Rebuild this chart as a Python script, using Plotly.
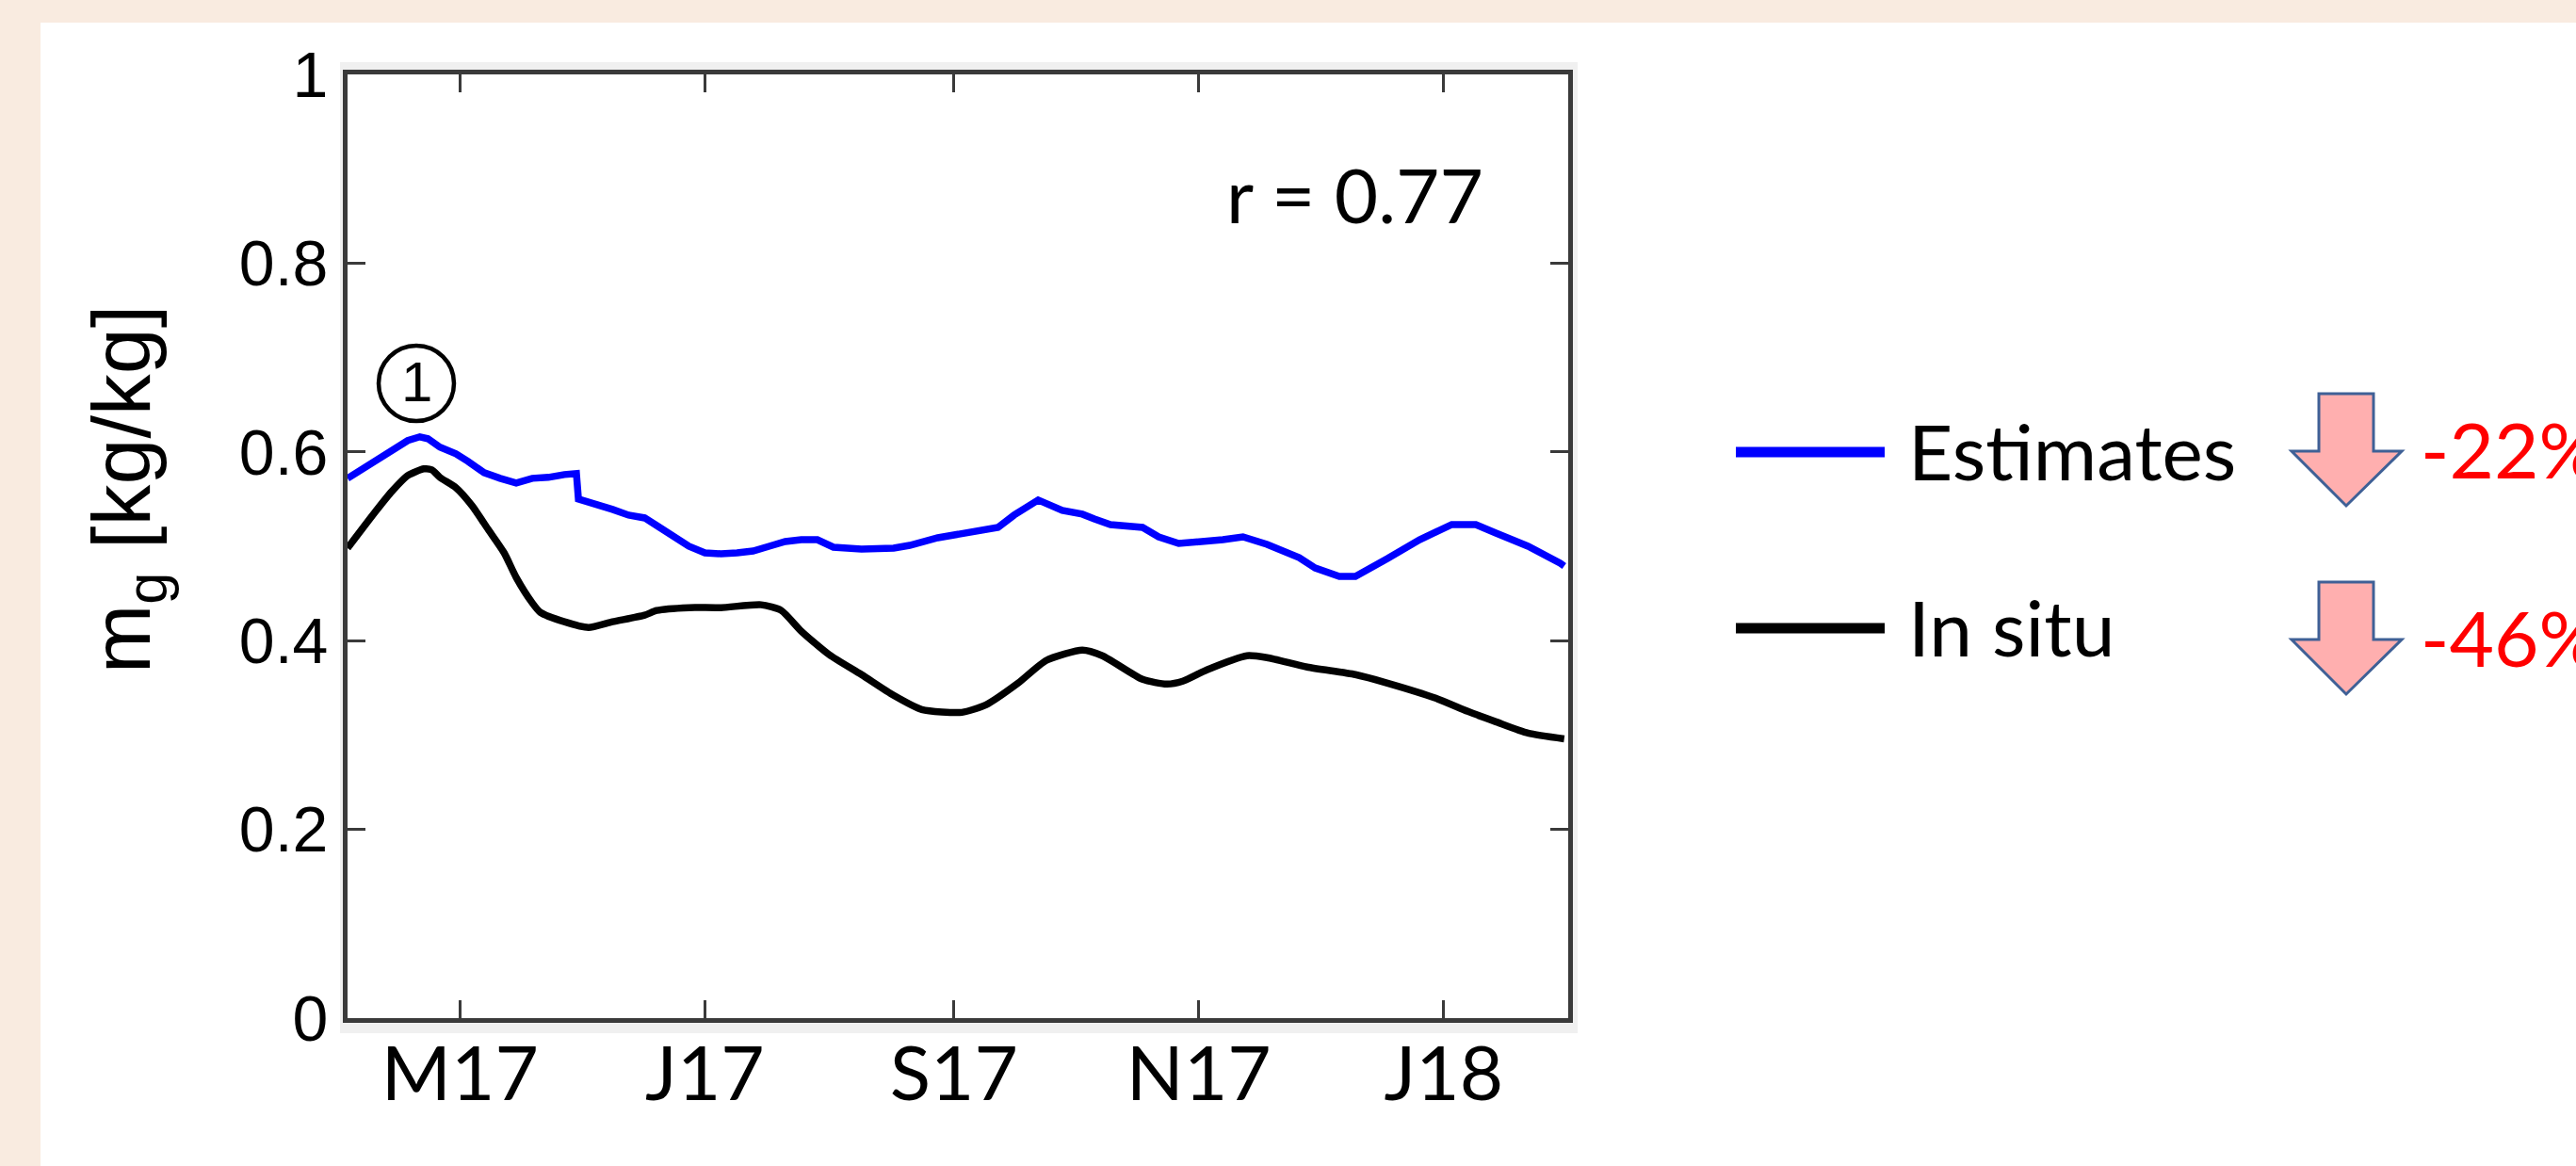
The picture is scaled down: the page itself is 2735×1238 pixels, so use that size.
import plotly.graph_objects as go

# ---------------- data ----------------
est_dates = ["2017-04-03","2017-04-10","2017-04-14","2017-04-18","2017-04-21","2017-04-23","2017-04-26","2017-04-30",
             "2017-05-03","2017-05-07","2017-05-11","2017-05-15","2017-05-19","2017-05-23","2017-05-27","2017-05-30 00:00",
             "2017-05-30 12:00","2017-06-04","2017-06-08","2017-06-12","2017-06-16","2017-06-19","2017-06-23","2017-06-27",
             "2017-07-01","2017-07-05","2017-07-09","2017-07-13","2017-07-17","2017-07-21","2017-07-25","2017-07-29",
             "2017-08-02","2017-08-09","2017-08-17","2017-08-21","2017-08-28","2017-09-05","2017-09-12","2017-09-16",
             "2017-09-22","2017-09-28","2017-10-03","2017-10-06","2017-10-10","2017-10-18","2017-10-22","2017-10-27",
             "2017-11-03","2017-11-07","2017-11-12","2017-11-18","2017-11-26","2017-11-30","2017-12-06","2017-12-10",
             "2017-12-18","2017-12-26","2018-01-03","2018-01-09","2018-01-14","2018-01-22","2018-01-30","2018-01-31"]
est_values = [0.572,0.590,0.601,0.612,0.616,0.614,0.605,0.598,
              0.590,0.578,0.572,0.567,0.572,0.573,0.576,0.577,
              0.550,0.545,0.539,0.533,0.530,0.522,0.510,0.500,
              0.493,0.492,0.493,0.495,0.500,0.505,0.507,0.507,
              0.499,0.497,0.498,0.501,0.509,0.515,0.520,0.533,
              0.549,0.538,0.534,0.529,0.523,0.520,0.510,0.503,
              0.505,0.507,0.510,0.502,0.488,0.477,0.468,0.468,
              0.487,0.507,0.523,0.523,0.514,0.500,0.482,0.479]

insitu_dates = ["2017-04-03","2017-04-10","2017-04-14","2017-04-18","2017-04-22","2017-04-24","2017-04-26","2017-04-30",
                "2017-05-04","2017-05-08","2017-05-12","2017-05-15","2017-05-19","2017-05-21","2017-05-27","2017-06-02",
                "2017-06-08","2017-06-16","2017-06-19","2017-06-27","2017-07-05","2017-07-15","2017-07-20","2017-07-25",
                "2017-08-01","2017-08-09","2017-08-17","2017-08-24","2017-09-03","2017-09-09","2017-09-17","2017-09-24",
                "2017-10-03","2017-10-08","2017-10-18","2017-10-24","2017-10-28","2017-11-03","2017-11-13","2017-11-18",
                "2017-11-28","2017-12-10","2017-12-18","2017-12-30","2018-01-07","2018-01-14","2018-01-22","2018-01-31"]
insitu_values = [0.498,0.537,0.558,0.575,0.582,0.581,0.573,0.562,
                 0.543,0.518,0.493,0.467,0.440,0.430,0.420,0.414,
                 0.420,0.427,0.432,0.435,0.435,0.438,0.432,0.410,
                 0.385,0.364,0.342,0.327,0.324,0.332,0.355,0.379,
                 0.390,0.384,0.359,0.354,0.357,0.369,0.384,0.382,
                 0.372,0.364,0.355,0.339,0.325,0.314,0.302,0.296]

x_tick_dates = ["2017-05-01", "2017-07-01", "2017-09-01", "2017-11-01", "2018-01-01"]
x_tick_labels = ["M17", "J17", "S17", "N17", "J18"]
y_tick_vals = [0, 0.2, 0.4, 0.6, 0.8, 1]
y_tick_labels = ["0", "0.2", "0.4", "0.6", "0.8", "1"]
series_names = ["Estimates", "In situ"]
series_colors = ["#0000FF", "#000000"]
change_labels = ["-22%", "-46%"]
r_label = "r = 0.77"

# ---------------- figure geometry ----------------
W, H = 2735, 1238
L, R, T, B = 369, 1665, 79, 1081
PW, PH = R - L, B - T


def px(xp):
    return (xp - L) / PW


def py(yp):
    return (B - yp) / PH


CAL = "Lato, 'Open Sans', sans-serif"
ARI = "'Liberation Sans', Arial, sans-serif"
FRAME = "#3a3a3a"
PEACH = "#F9EBE0"

fig = go.Figure()
fig.add_trace(go.Scatter(x=est_dates, y=est_values, mode="lines", name=series_names[0],
                         line=dict(color=series_colors[0], width=7.5), showlegend=False))
fig.add_trace(go.Scatter(x=insitu_dates, y=insitu_values, mode="lines", name=series_names[1],
                         line=dict(color=series_colors[1], width=7.5, shape="spline", smoothing=0.6),
                         showlegend=False))

shapes = [
    # peach page strips (top and left) around the white panel
    dict(type="rect", xref="paper", yref="paper", x0=px(0), x1=px(W), y0=py(24), y1=py(0),
         fillcolor=PEACH, line=dict(width=0), layer="below"),
    dict(type="rect", xref="paper", yref="paper", x0=px(0), x1=px(43), y0=py(H), y1=py(0),
         fillcolor=PEACH, line=dict(width=0), layer="below"),
    # light gray figure border around axes
    dict(type="rect", xref="paper", yref="paper", x0=px(361), x1=px(1675), y0=py(1097), y1=py(66),
         fillcolor="#F0F0F0", line=dict(width=0), layer="below"),
    dict(type="rect", xref="paper", yref="paper", x0=0, x1=1, y0=0, y1=1,
         fillcolor="white", line=dict(width=0), layer="below"),
    # circled 1
    dict(type="circle", xref="paper", yref="paper", x0=px(402), x1=px(482), y0=py(447), y1=py(367),
         line=dict(color="black", width=4.5)),
]

annotations = []
# legend lines + labels
leg_y = [480, 667]
for i in range(2):
    shapes.append(dict(type="line", xref="paper", yref="paper", x0=px(1843), x1=px(2001),
                       y0=py(leg_y[i]), y1=py(leg_y[i]), line=dict(color=series_colors[i], width=11)))
    annotations.append(dict(text=series_names[i], xref="paper", yref="paper", x=px(2024), y=py(leg_y[i] - 2),
                            xanchor="left", yanchor="middle", showarrow=False,
                            font=dict(family=CAL, size=82, color="black")))

# down arrows
arrow_tops = [418, 618]
for i, top in enumerate(arrow_tops):
    sb = top + 61
    tip = top + 119
    pts = [(2462, top), (2520, top), (2520, sb), (2550, sb), (2491, tip), (2433, sb), (2462, sb)]
    path = "M " + " L ".join(f"{px(a):.5f},{py(b):.5f}" for a, b in pts) + " Z"
    shapes.append(dict(type="path", xref="paper", yref="paper", path=path,
                       fillcolor="#FFAFAF", line=dict(color="#3F6096", width=3)))
    annotations.append(dict(text=change_labels[i], xref="paper", yref="paper", x=px(2568), y=py(top + 58),
                            xanchor="left", yanchor="middle", showarrow=False,
                            font=dict(family=CAL, size=82, color="#FF0000")))

annotations += [
    dict(text=r_label, xref="paper", yref="paper", x=px(1438), y=py(206), xanchor="center", yanchor="middle",
         showarrow=False, font=dict(family=CAL, size=80, color="black")),
    dict(text="1", xref="paper", yref="paper", x=px(442), y=py(406), xanchor="center", yanchor="middle",
         showarrow=False, font=dict(family=ARI, size=60, color="black")),
    dict(text="m<sub>g</sub> [kg/kg]", xref="paper", yref="paper", x=px(134), y=py(520), xanchor="center",
         yanchor="middle", textangle=-90, showarrow=False, font=dict(family=ARI, size=88, color="black")),
]

fig.update_layout(
    width=W, height=H,
    margin=dict(l=L, r=W - R, t=T, b=H - B, pad=0),
    paper_bgcolor="white",
    plot_bgcolor="rgba(0,0,0,0)",
    shapes=shapes,
    annotations=annotations,
    showlegend=False,
    xaxis=dict(type="date", range=["2017-04-03", "2018-02-01"], tickmode="array",
               tickvals=x_tick_dates, ticktext=x_tick_labels, ticks="inside", ticklen=19, tickwidth=3,
               tickcolor=FRAME, showline=True, linecolor=FRAME, linewidth=5, mirror="ticks",
               showgrid=False, zeroline=False, tickfont=dict(family=CAL, size=80, color="black"),
               ticklabelstandoff=-14),
    yaxis=dict(range=[0, 1], tickmode="array", tickvals=y_tick_vals, ticktext=y_tick_labels,
               ticks="inside", ticklen=19, tickwidth=3, tickcolor=FRAME, showline=True, linecolor=FRAME,
               linewidth=5, mirror="ticks", showgrid=False, zeroline=False,
               tickfont=dict(family=ARI, size=68, color="black"), ticklabelstandoff=2),
)

fig.write_html("out.html", config={"displayModeBar": False},
               post_script="document.body.style.margin='0';document.body.style.overflow='hidden';")
